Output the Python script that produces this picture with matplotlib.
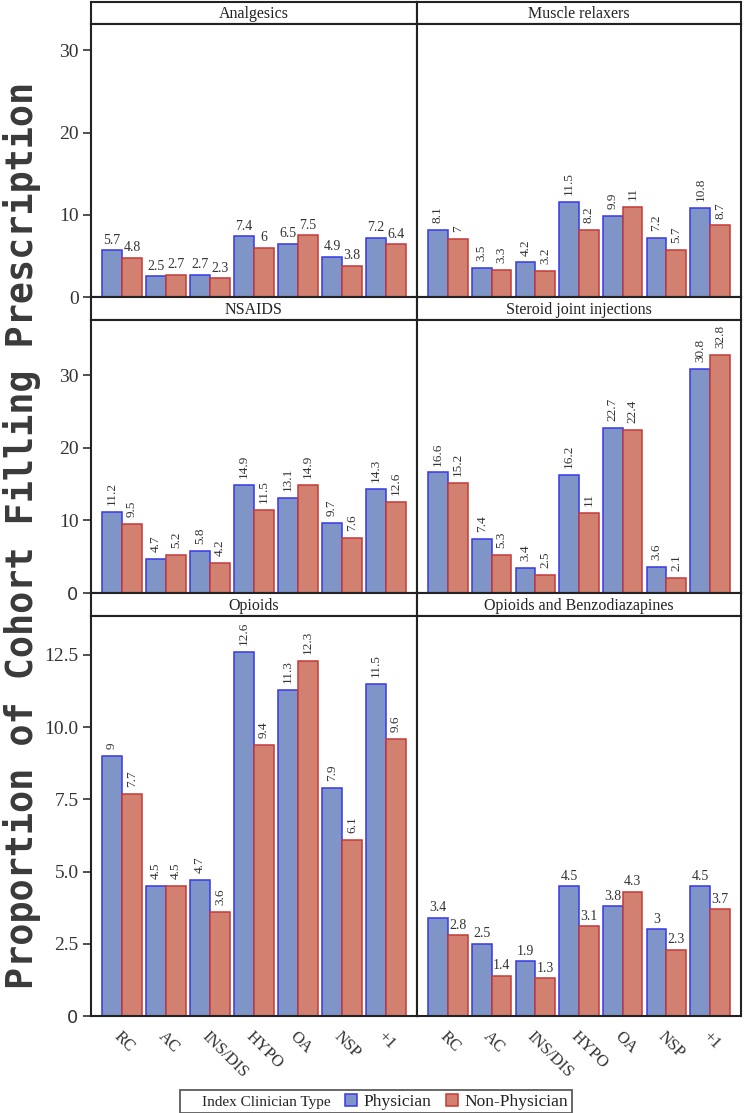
import matplotlib
matplotlib.use("Agg")
import matplotlib.pyplot as plt
from matplotlib.patches import Patch, Rectangle

categories = ['RC', 'AC', 'INS/DIS', 'HYPO', 'OA', 'NSP', '+1']
series_names = ['Physician', 'Non-Physician']

analgesics_phys = [5.7, 2.5, 2.7, 7.4, 6.5, 4.9, 7.2]
analgesics_non = [4.8, 2.7, 2.3, 6, 7.5, 3.8, 6.4]
muscle_phys = [8.1, 3.5, 4.2, 11.5, 9.9, 7.2, 10.8]
muscle_non = [7, 3.3, 3.2, 8.2, 11, 5.7, 8.7]
nsaids_phys = [11.2, 4.7, 5.8, 14.9, 13.1, 9.7, 14.3]
nsaids_non = [9.5, 5.2, 4.2, 11.5, 14.9, 7.6, 12.6]
steroid_phys = [16.6, 7.4, 3.4, 16.2, 22.7, 3.6, 30.8]
steroid_non = [15.2, 5.3, 2.5, 11, 22.4, 2.1, 32.8]
opioids_phys = [9, 4.5, 4.7, 12.6, 11.3, 7.9, 11.5]
opioids_non = [7.7, 4.5, 3.6, 9.4, 12.3, 6.1, 9.6]
opibenz_phys = [3.4, 2.5, 1.9, 4.5, 3.8, 3, 4.5]
opibenz_non = [2.8, 1.4, 1.3, 3.1, 4.3, 2.3, 3.7]

panel_titles = ['Analgesics', 'Muscle relaxers', 'NSAIDS', 'Steroid joint injections',
                'Opioids', 'Opioids and Benzodiazapines']
panel_data = [(analgesics_phys, analgesics_non), (muscle_phys, muscle_non),
              (nsaids_phys, nsaids_non), (steroid_phys, steroid_non),
              (opioids_phys, opioids_non), (opibenz_phys, opibenz_non)]
rotated_labels = [False, True, True, True, True, False]

row_ticks = [[0, 10, 20, 30], [0, 10, 20, 30], [0, 2.5, 5.0, 7.5, 10.0, 12.5]]
row_ticklabels = [['0', '10', '20', '30'], ['0', '10', '20', '30'],
                  ['0', '2.5', '5.0', '7.5', '10.0', '12.5']]
row_ylim = [33.2, 37.6, 13.85]

W, H = 744, 1113
fig = plt.figure(figsize=(W / 100, H / 100), dpi=100)
fig.patch.set_facecolor('white')


def rect(x0, y0, x1, y1):
    return [x0 / W, 1 - y1 / H, (x1 - x0) / W, (y1 - y0) / H]


cols = [(91, 417), (417, 741)]
rows = [((2, 24), (24, 297)), ((297, 320), (320, 593)), ((593, 616), (616, 1016))]

blue_fill, blue_edge = '#7f95c8', '#3838e8'
red_fill, red_edge = '#d2806f', '#c43a3a'
serif = 'Liberation Serif'
text_col = '#333333'
bw = 0.45
x = list(range(len(categories)))

for i, title in enumerate(panel_titles):
    r, c = divmod(i, 2)
    (sy0, sy1), (py0, py1) = rows[r]
    cx0, cx1 = cols[c]
    # strip
    sax = fig.add_axes(rect(cx0, sy0, cx1, sy1))
    sax.set_xticks([]); sax.set_yticks([])
    for sp in sax.spines.values():
        sp.set_linewidth(1.5); sp.set_color('#222222')
    sax.text(0.5, 0.45, title, ha='center', va='center', fontsize=11.5,
             family=serif, color='#222222', transform=sax.transAxes)
    # plot
    ax = fig.add_axes(rect(cx0, py0, cx1, py1))
    phys, non = panel_data[i]
    xp = [v - bw / 2 for v in x]
    xn = [v + bw / 2 for v in x]
    b1 = ax.bar(xp, phys, width=bw, color=blue_fill, edgecolor=blue_edge, linewidth=1.1)
    b2 = ax.bar(xn, non, width=bw, color=red_fill, edgecolor=red_edge, linewidth=1.1)
    for bars, vals in ((b1, phys), (b2, non)):
        for bar, v in zip(bars, vals):
            cxb = bar.get_x() + bar.get_width() / 2
            if rotated_labels[i]:
                ax.annotate(f'{v:g}', (cxb, v), xytext=(0, 5), textcoords='offset points',
                            rotation=90, ha='center', va='bottom', fontsize=9.5,
                            family=serif, color=text_col)
            else:
                ax.annotate(f'{v:g}', (cxb, v), xytext=(0, 2.5), textcoords='offset points',
                            ha='center', va='bottom', fontsize=10,
                            family=serif, color=text_col)
    ax.set_xlim(-0.705, 6.705)
    ax.set_ylim(0, row_ylim[r])
    for sp in ax.spines.values():
        sp.set_linewidth(1.5); sp.set_color('#222222')
    if c == 0:
        ax.set_yticks(row_ticks[r])
        ax.set_yticklabels(row_ticklabels[r], fontsize=14, family=serif, color=text_col)
        ax.tick_params(axis='y', length=6, width=1.2, color='#333333', pad=3)
        if r > 0:
            ax.get_yticklabels()[0].set_family('DejaVu Sans')
            ax.get_yticklabels()[0].set_fontsize(13)
    else:
        ax.set_yticks([])
    if r == 2:
        ax.set_xticks(x)
        ax.set_xticklabels(categories, rotation=-45, ha='left', va='top',
                           rotation_mode='anchor', fontsize=12, family=serif,
                           color=text_col)
        ax.tick_params(axis='x', length=0, pad=9)
    else:
        ax.set_xticks([])

fig.text(0.029, 1 - 535 / H, 'Proportion of Cohort Filling Prescription', rotation=90,
         ha='center', va='center', family='DejaVu Sans Mono', weight='bold',
         fontsize=26.5, color='#3a3a3a')

handles = [Rectangle((0, 0), 1, 1, fill=False, edgecolor='none', visible=False),
           Patch(facecolor=blue_fill, edgecolor=blue_edge, linewidth=1.1),
           Patch(facecolor=red_fill, edgecolor=red_edge, linewidth=1.1)]
labels = ['Index Clinician Type'] + series_names
leg = fig.legend(handles, labels, loc='lower center', bbox_to_anchor=(0.505, -0.008),
                 ncol=3, frameon=True, fancybox=False, edgecolor='#333333',
                 handlelength=0.7, handleheight=0.7, handletextpad=0.4,
                 columnspacing=0.8, borderpad=0.2,
                 prop={'family': serif, 'size': 12.5})
leg.get_frame().set_linewidth(1.3)
leg.get_texts()[0].set_fontsize(11)
for t in leg.get_texts():
    t.set_color('#222222')

fig.savefig('out.png', dpi=100, facecolor='white')
